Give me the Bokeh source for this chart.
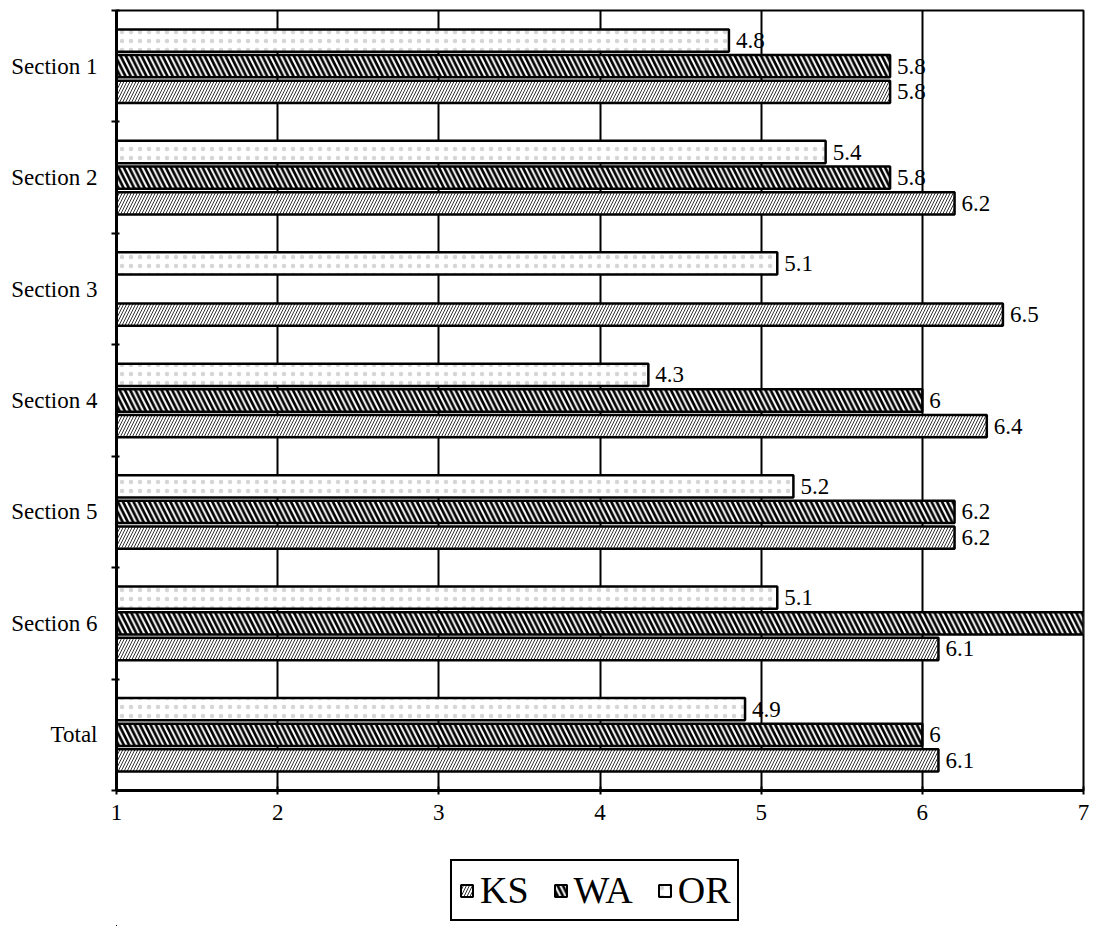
from bokeh.plotting import figure
from bokeh.layouts import column
from bokeh.models import (ColumnDataSource, FixedTicker, Legend, LegendItem)
from bokeh.core.properties import value
from bokeh.embed import file_html
from bokeh.resources import INLINE

# ---- data -------------------------------------------------------------
categories = ["Section 1", "Section 2", "Section 3", "Section 4",
              "Section 5", "Section 6", "Total"]
ks = [5.8, 6.2, 6.5, 6.4, 6.2, 6.1, 6.1]
wa = [5.8, 5.8, None, 6.0, 6.2, 7.0, 6.0]
or_ = [4.8, 5.4, 5.1, 4.3, 5.2, 5.1, 4.9]
series_names = ["KS", "WA", "OR"]
x_ticks = [1, 2, 3, 4, 5, 6, 7]

SERIF = "Liberation Serif"
FONT_PX = "23px"
n = len(categories)
# first category at the top
ypos = [n - i for i in range(n)]


def fmt(v):
    return str(int(v)) if float(v).is_integer() else f"{v:g}"


def series_source(vals, shift):
    rows = [(y + shift, v) for y, v in zip(ypos, vals) if v is not None]
    return ColumnDataSource(dict(
        y=[r[0] for r in rows],
        v=[r[1] for r in rows],
        label=[fmt(r[1]) for r in rows],
    ))


p = figure(frame_width=967, frame_height=780,
           output_backend="svg", toolbar_location=None,
           x_range=(1, 7), y_range=(0.5, n + 0.5),
           min_border_left=116, min_border_right=23, min_border_top=10,
           min_border_bottom=45)

p.background_fill_color = "white"
p.border_fill_color = "white"
p.outline_line_color = "black"
p.outline_line_width = 2

# ---- axes -------------------------------------------------------------
p.xaxis.ticker = FixedTicker(ticks=x_ticks)
p.xaxis.axis_line_width = 3
p.xaxis.axis_line_color = "black"
p.xaxis.major_tick_line_width = 2
p.xaxis.major_tick_line_color = "black"
p.xaxis.major_tick_in = 4
p.xaxis.major_tick_out = 4
p.xaxis.minor_tick_line_color = None
p.xaxis.major_label_text_font = SERIF
p.xaxis.major_label_text_font_size = FONT_PX
p.xaxis.major_label_text_color = "black"
p.xaxis.major_label_standoff = 10

p.yaxis.ticker = FixedTicker(ticks=ypos,
                             minor_ticks=[k + 0.5 for k in range(n + 1)])
p.yaxis.major_label_overrides = {y: c for y, c in zip(ypos, categories)}
p.yaxis.axis_line_width = 3
p.yaxis.axis_line_color = "black"
p.yaxis.major_tick_line_color = None
p.yaxis.minor_tick_line_color = "black"
p.yaxis.minor_tick_line_width = 2
p.yaxis.minor_tick_out = 5
p.yaxis.minor_tick_in = 3
p.yaxis.major_label_text_font = SERIF
p.yaxis.major_label_text_font_size = FONT_PX
p.yaxis.major_label_text_color = "black"
p.yaxis.major_label_standoff = 13

p.xgrid.grid_line_color = "black"
p.xgrid.grid_line_width = 2
p.xgrid.grid_line_alpha = 1
p.ygrid.grid_line_color = None

# ---- bars -------------------------------------------------------------
BAR_H = 0.2
OFF = 0.23

styles = {
    "KS": dict(hatch_pattern="/", hatch_scale=6, hatch_weight=1.0,
               hatch_color="#333333"),
    "WA": dict(hatch_pattern="\\", hatch_scale=10.5, hatch_weight=2.7,
               hatch_color="black"),
    "OR": dict(hatch_pattern="dot", hatch_scale=9, hatch_weight=0.6,
               hatch_color="#999999", hatch_alpha=0.4),
}

sources = {}
for name, vals, shift in [("KS", ks, -OFF), ("WA", wa, 0.0), ("OR", or_, OFF)]:
    src = series_source(vals, shift)
    sources[name] = src
    p.hbar(y="y", left=1, right="v", height=BAR_H, source=src,
           fill_color="white", line_color="black", line_width=2.5,
           **styles[name])
    p.text(x="v", y="y", text="label", source=src, x_offset=7,
           text_baseline="middle", text_align="left",
           text_font=value(SERIF), text_font_size=FONT_PX,
           text_color="black")

# ---- legend strip under the chart ---------------------------------------
# a companion plot whose view lies well away from the data, so only its
# legend shows
leg_fig = figure(width=1106, height=91, output_backend="svg",
                 toolbar_location=None, x_axis_type=None, y_axis_type=None,
                 x_range=(50, 60), y_range=(50, 60),
                 min_border=0)
leg_fig.outline_line_color = None
leg_fig.background_fill_color = "white"
leg_fig.border_fill_color = "white"

items = []
for name in series_names:
    r = leg_fig.hbar(y="y", left=1, right="v", height=BAR_H,
                     source=sources[name],
                     fill_color="white", line_color="black", line_width=2,
                     **styles[name])
    items.append(LegendItem(label=name, renderers=[r]))

# frames of the stacked plots share their left edge (x = 116 on the page)
legend = Legend(items=items, orientation="horizontal", location=(334, 5),
                border_line_color="black", border_line_width=2.5,
                border_line_alpha=1, background_fill_alpha=1,
                label_text_font=SERIF, label_text_font_size="38px",
                label_text_color="black", label_height=30,
                glyph_width=15, glyph_height=15, label_standoff=6,
                spacing=24, padding=7, margin=0)
leg_fig.add_layout(legend, "center")

layout = column(p, leg_fig, spacing=0)

open("out.html", "w").write(file_html(layout, INLINE))
